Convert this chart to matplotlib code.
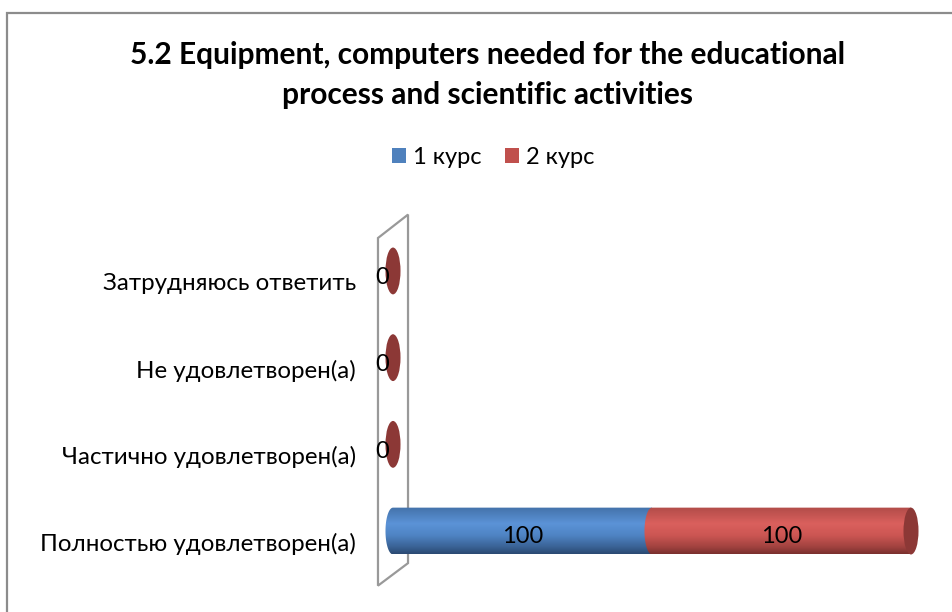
import numpy as np
import matplotlib.pyplot as plt
import matplotlib.transforms as mtransforms
from matplotlib.patches import Ellipse, Polygon, Rectangle, Patch
from matplotlib.colors import LinearSegmentedColormap

plt.rcParams['font.family'] = ['Lato', 'DejaVu Sans']

title = '5.2 Equipment, computers needed for the educational\nprocess and scientific activities'
categories = ['Затрудняюсь ответить', 'Не удовлетворен(а)',
              'Частично удовлетворен(а)', 'Полностью удовлетворен(а)']
series_names = ['1 курс', '2 курс']
course1 = [0, 0, 0, 100]
course2 = [0, 0, 0, 100]

legend_colors = ['#4F81BD', '#C0504D']
cap_colors = ['#3A5F8E', '#8C3836']
body_shades = [
    ['#4472AA', '#5B93D7', '#4F84C4', '#3A6396', '#2B4A73'],
    ['#B24C49', '#DA605D', '#CC5653', '#A24340', '#7A302E'],
]

W, H = 953, 612
fig = plt.figure(figsize=(W / 100, H / 100), dpi=100)

# chart area frame
fig.patches.append(Rectangle((7 / W, -0.1), 1.0, (H - 13) / H + 0.1,
                             transform=fig.transFigure, fill=False,
                             edgecolor='#8C8C8C', lw=1.6))

# axes: x -10..200 spans px 367..911, rows centred at px 271 + 86.7*i
ax = fig.add_axes([367.1 / W, (H - 574.4) / H, 543.9 / W, 346.8 / H])
ax.set_xlim(-10, 200)
ax.set_ylim(3.5, -0.5)
for sp in ax.spines.values():
    sp.set_visible(False)
ax.set_xticks([])

# back wall
wall = Polygon([(-5.8, -0.38), (5.8, -0.65), (5.8, 3.37), (-5.8, 3.63)],
               closed=True, facecolor='white', edgecolor='#999999', lw=1.6,
               clip_on=False, zorder=1)
ax.add_patch(wall)

a = 2.9   # half width of the cylinder ends (data units)
h = 0.27  # half height of the cylinder
t = np.linspace(np.pi / 2, 3 * np.pi / 2, 40)
series = [course1, course2]

for i, cat in enumerate(categories):
    left = 0
    for s, vals in enumerate(series):
        v = vals[i]
        if v > 0:
            xs = left + a * np.cos(t)
            ys = i - h * np.sin(t)
            pts = list(zip(xs, ys)) + [(left + v, i + h), (left + v, i - h)]
            clip = Polygon(pts, closed=True, facecolor='none', edgecolor='none')
            ax.add_patch(clip)
            cmap = LinearSegmentedColormap.from_list(
                'c%d' % s, list(zip([0, 0.35, 0.6, 0.85, 1.0], body_shades[s])))
            grad = np.linspace(0, 1, 64).reshape(-1, 1)
            im = ax.imshow(grad, cmap=cmap, aspect='auto', origin='upper',
                           extent=(left - a, left + v, i + h, i - h),
                           zorder=2)
            im.set_clip_path(clip)
            ax.annotate(str(v), (left + v / 2, i), xytext=(0, -4),
                        textcoords='offset points', ha='center', va='center',
                        fontsize=17, color='black', zorder=5)
        left += v
    ax.add_patch(Ellipse((left, i), 2 * a, 2 * h, facecolor=cap_colors[-1],
                         edgecolor='none', zorder=3, clip_on=False))
    if left == 0:
        ax.annotate('0', (0, i), xytext=(-8, -5), textcoords='offset points',
                    ha='center', va='center', fontsize=17, color='black',
                    zorder=5, annotation_clip=False)

ax.set_xlim(-10, 200)
ax.set_ylim(3.5, -0.5)

ax.set_yticks(range(len(categories)))
ax.set_yticklabels(categories, fontsize=17.4)
ax.tick_params(axis='y', length=0, pad=8)
shift = mtransforms.ScaledTranslation(0, -0.11, fig.dpi_scale_trans)
for lab in ax.get_yticklabels():
    lab.set_transform(lab.get_transform() + shift)

fig.text(488 / W, 1 - 75 / H, title, ha='center', va='center',
         fontsize=21.5, fontweight='bold', linespacing=1.5)

handles = [Patch(facecolor=c, edgecolor='none') for c in legend_colors]
fig.legend(handles, series_names, loc='center', bbox_to_anchor=(493 / W, 1 - 157 / H),
           ncol=2, frameon=False, fontsize=17, handlelength=0.6, handleheight=0.6,
           handletextpad=0.3, columnspacing=1.0)

fig.savefig('out.png', dpi=100)
